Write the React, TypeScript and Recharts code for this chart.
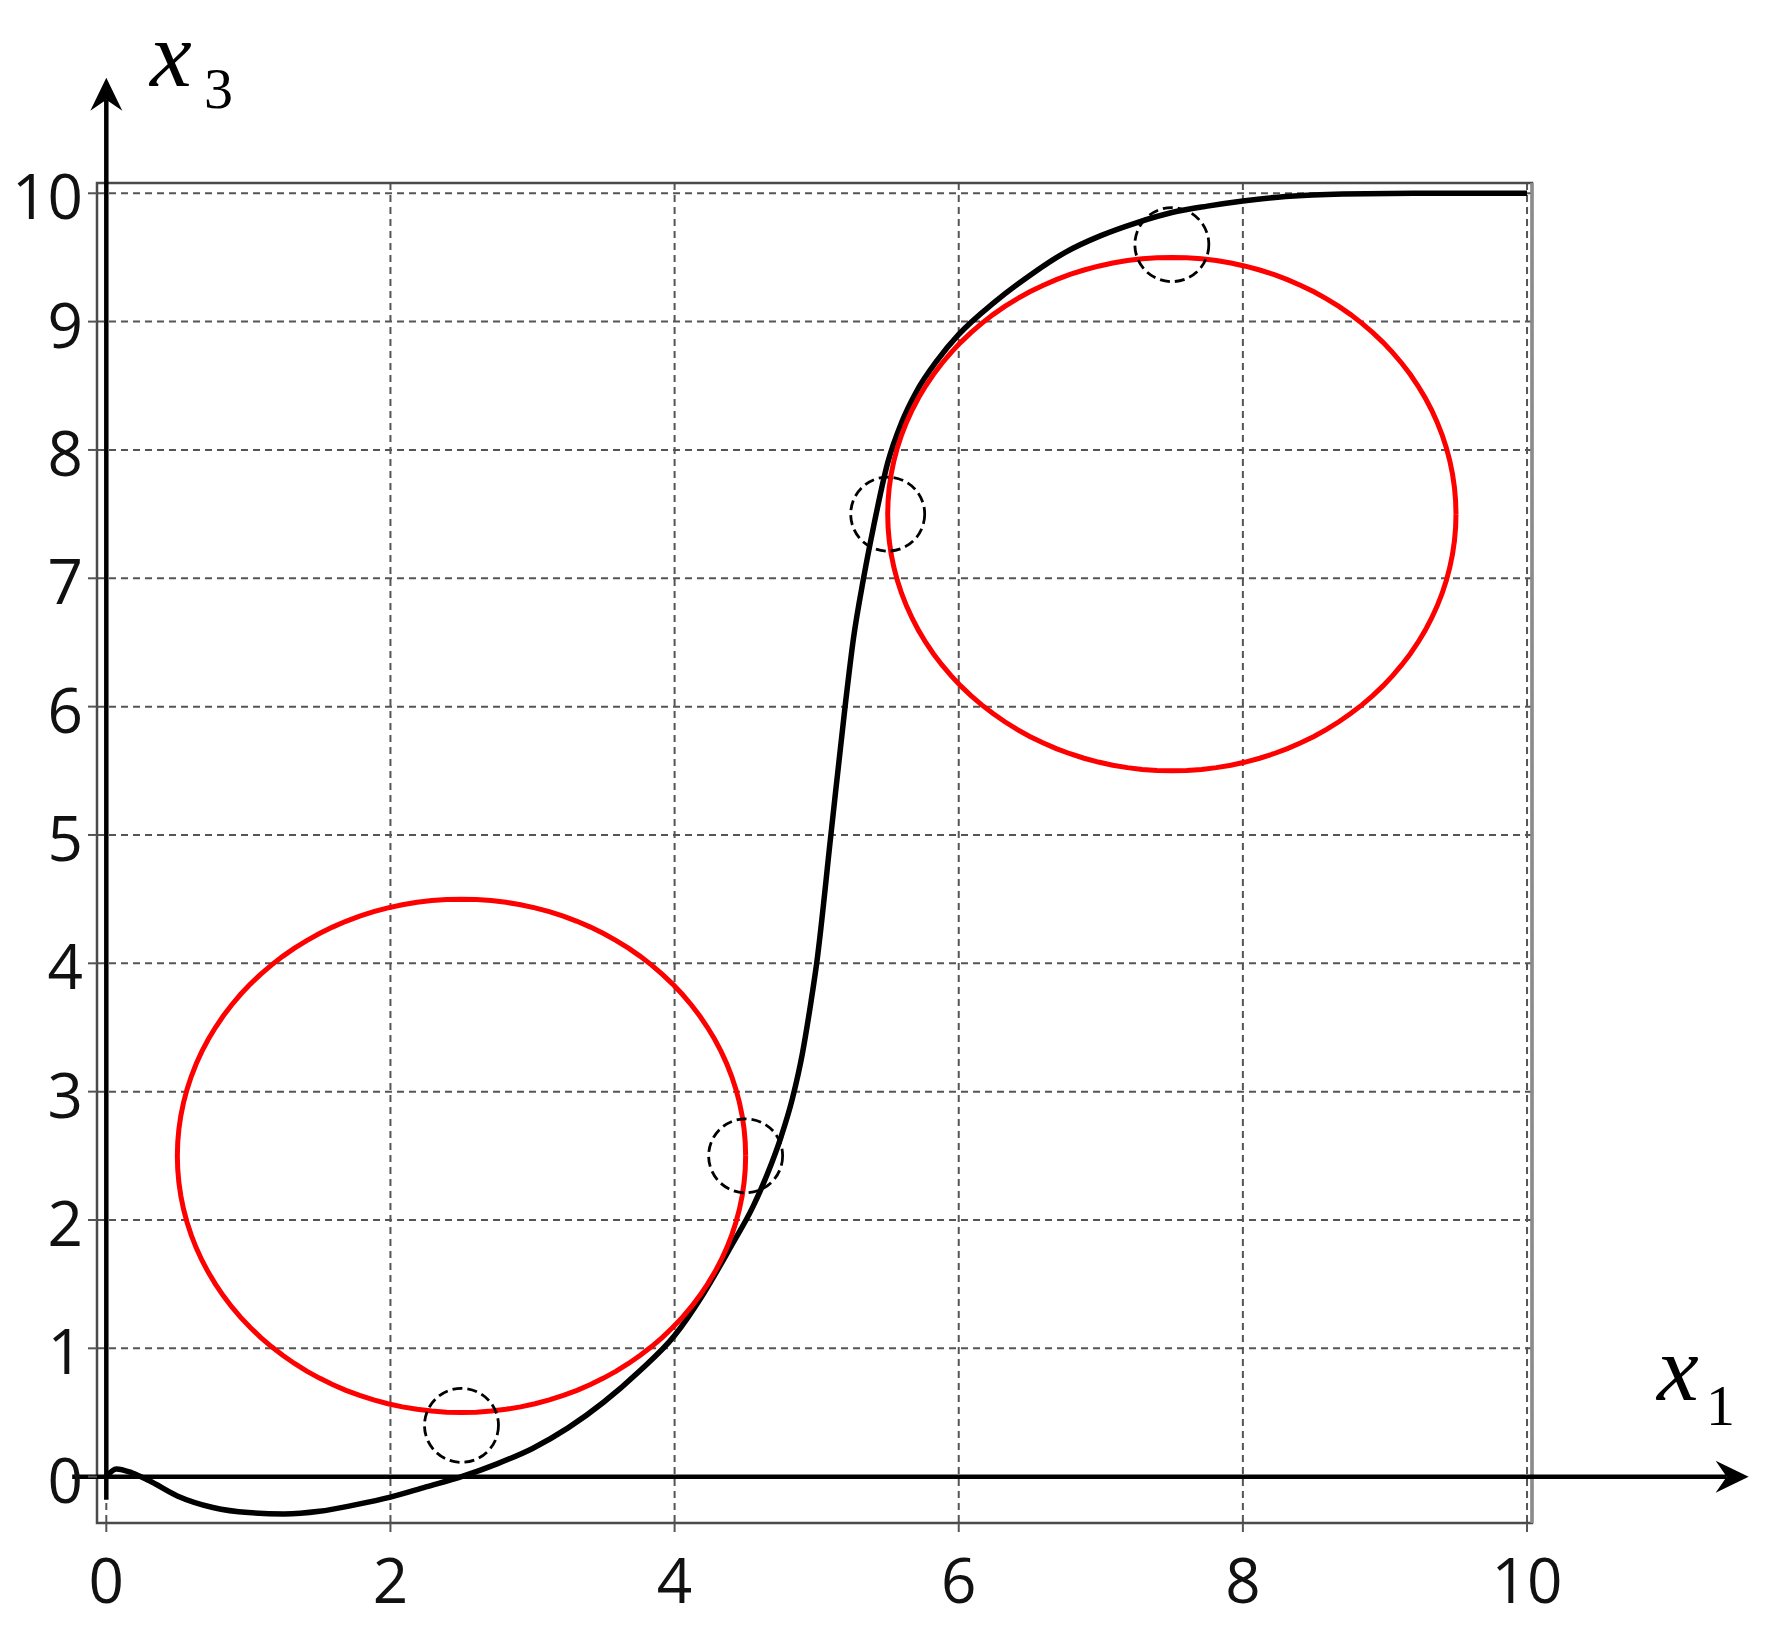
import React from 'react'
import {
  ComposedChart, Line, Scatter, XAxis, YAxis, CartesianGrid, ReferenceLine, ReferenceArea
} from 'recharts'

// axis ticks
const X_TICKS = [0, 2, 4, 6, 8, 10]
const Y_TICKS = [0, 1, 2, 3, 4, 5, 6, 7, 8, 9, 10]

// black trajectory x3(x1)
const trajX1 = [0, 0.07, 0.18, 0.3, 0.5, 0.75, 1.0, 1.25, 1.5, 1.75, 2.0, 2.25, 2.5, 2.75, 3.0, 3.25, 3.5, 3.75, 4.0, 4.2, 4.4, 4.55, 4.65, 4.75, 4.83, 4.9, 4.96, 5.0, 5.1, 5.2, 5.26, 5.33, 5.4, 5.5, 5.6, 5.7, 5.85, 6.0, 6.25, 6.5, 6.75, 7.0, 7.25, 7.5, 7.75, 8.0, 8.3, 8.7, 9.2, 10.0]
const trajX3 = [0, 0.06, 0.03, -0.03, -0.15, -0.24, -0.28, -0.29, -0.27, -0.22, -0.16, -0.08, 0.0, 0.1, 0.22, 0.38, 0.58, 0.82, 1.1, 1.42, 1.8, 2.1, 2.35, 2.65, 2.95, 3.3, 3.7, 4.0, 5.0, 6.0, 6.54, 7.0, 7.4, 7.9, 8.22, 8.45, 8.7, 8.9, 9.15, 9.36, 9.54, 9.67, 9.77, 9.85, 9.9, 9.94, 9.975, 9.995, 10.0, 10.0]

// red obstacle circles
const obstacleCx = [2.5, 7.5]
const obstacleCy = [2.5, 7.5]
const obstacleR = 2

// small dashed circles (centres)
const markX1 = [2.5, 4.5, 5.5, 7.5]
const markX3 = [0.4, 2.5, 7.5, 9.6]

const X_DOMAIN: [number, number] = [-0.0655, 10.035]
const Y_DOMAIN: [number, number] = [-0.361, 10.08]

const trajData = trajX1.map((x, i) => ({ x, y: trajX3[i] }))
const markData = markX1.map((x, i) => ({ x, y: markX3[i] }))
const circleData = obstacleCx.map((cx, k) => {
  const pts = []
  for (let i = 0; i <= 120; i++) {
    const a = (i / 120) * Math.PI * 2
    pts.push({ x: cx + obstacleR * Math.cos(a), y: obstacleCy[k] + obstacleR * Math.sin(a) })
  }
  return pts
})

const TICK_FONT = '"Open Sans", "Noto Sans", sans-serif'

const renderXTick = (props: any) => {
  const { x, y, payload } = props
  return (
    <text x={x} y={y + 71} textAnchor="middle" fontSize={62} fontFamily={TICK_FONT} fill="#111">
      {payload.value}
    </text>
  )
}

const renderYTick = (props: any) => {
  const { x, y, payload } = props
  return (
    <text x={x} y={y + 26} textAnchor="end" fontSize={62} fontFamily={TICK_FONT} fill="#111">
      {payload.value}
    </text>
  )
}

const Arrow = (props: any) => {
  const { x1, y1, x2, y2 } = props
  const ang = Math.atan2(y2 - y1, x2 - x1)
  const c = Math.cos(ang), s = Math.sin(ang)
  const pt = (a: number, b: number) => `${x2 + a * c - b * s},${y2 + a * s + b * c}`
  const L = 33, W = 16, N = 11
  const bx = x2 + (-L + N) * c, by = y2 + (-L + N) * s
  return (
    <g>
      <line x1={x1} y1={y1} x2={bx} y2={by} stroke="#000" strokeWidth={4.5} />
      <path d={`M${x2},${y2}L${pt(-L, -W)}L${pt(-L + N, 0)}L${pt(-L, W)}Z`} fill="#000" />
    </g>
  )
}

const noDot = () => <g />
const dashedMark = (p: any) => (
  <circle cx={p.cx} cy={p.cy} r={37} fill="none" stroke="#000" strokeWidth={2.8} strokeDasharray="10 5" />
)

export default function App() {
  return (
    <div style={{ position: 'absolute', left: 0, top: 0, width: 1765, height: 1632, background: '#fff' }}>
      <ComposedChart
        width={1765}
        height={1632}
        margin={{ top: 183, right: 233, bottom: 9, left: 0 }}
      >
        <CartesianGrid stroke="#555" strokeWidth={2} strokeDasharray="7 5" />
        <XAxis
          type="number"
          dataKey="x"
          domain={X_DOMAIN}
          allowDataOverflow
          ticks={X_TICKS}
          interval={0}
          height={100}
          axisLine={false}
          tickLine={{ stroke: '#555', strokeWidth: 2 }}
          tickSize={9}
          tickMargin={0}
          tick={renderXTick}
        />
        <YAxis
          type="number"
          dataKey="y"
          domain={Y_DOMAIN}
          allowDataOverflow
          ticks={Y_TICKS}
          interval={0}
          width={97}
          axisLine={false}
          tickLine={{ stroke: '#555', strokeWidth: 2 }}
          tickSize={9}
          tickMargin={5}
          tick={renderYTick}
        />
        <ReferenceArea
          x1={X_DOMAIN[0]} x2={X_DOMAIN[1]} y1={Y_DOMAIN[0]} y2={Y_DOMAIN[1]}
          fill="none" fillOpacity={0} stroke="#4a4a4a" strokeWidth={2.5} ifOverflow="visible"
        />
        <ReferenceLine x={X_DOMAIN[1]} stroke="#8c8c8c" strokeWidth={3.5} ifOverflow="visible" />
        {circleData.map((pts, k) => (
          <Scatter
            key={`obst-${k}`}
            data={pts}
            line={{ stroke: '#ff0000', strokeWidth: 5 }}
            lineType="joint"
            shape={noDot}
            isAnimationActive={false}
          />
        ))}
        <Line
          data={trajData}
          dataKey="y"
          type="monotone"
          stroke="#000"
          strokeWidth={5.5}
          dot={false}
          activeDot={false}
          isAnimationActive={false}
        />
        <Scatter data={markData} shape={dashedMark} isAnimationActive={false} />
        <ReferenceLine
          segment={[{ x: -0.24, y: 0 }, { x: 11.56, y: 0 }]}
          ifOverflow="visible"
          shape={<Arrow />}
        />
        <ReferenceLine
          segment={[{ x: 0, y: -0.18 }, { x: 0, y: 10.9 }]}
          ifOverflow="visible"
          shape={<Arrow />}
        />
      </ComposedChart>
      <svg
        width={1765}
        height={1632}
        style={{ position: 'absolute', left: 0, top: 0, pointerEvents: 'none' }}
      >
        <g fontFamily='"Liberation Serif", "DejaVu Serif", serif' fill="#000">
          <text x={150} y={86} fontSize={94} fontStyle="italic">x</text>
          <text x={204} y={108} fontSize={58}>3</text>
          <text x={1657} y={1400} fontSize={94} fontStyle="italic">x</text>
          <text x={1706} y={1425} fontSize={58}>1</text>
        </g>
      </svg>
    </div>
  )
}
